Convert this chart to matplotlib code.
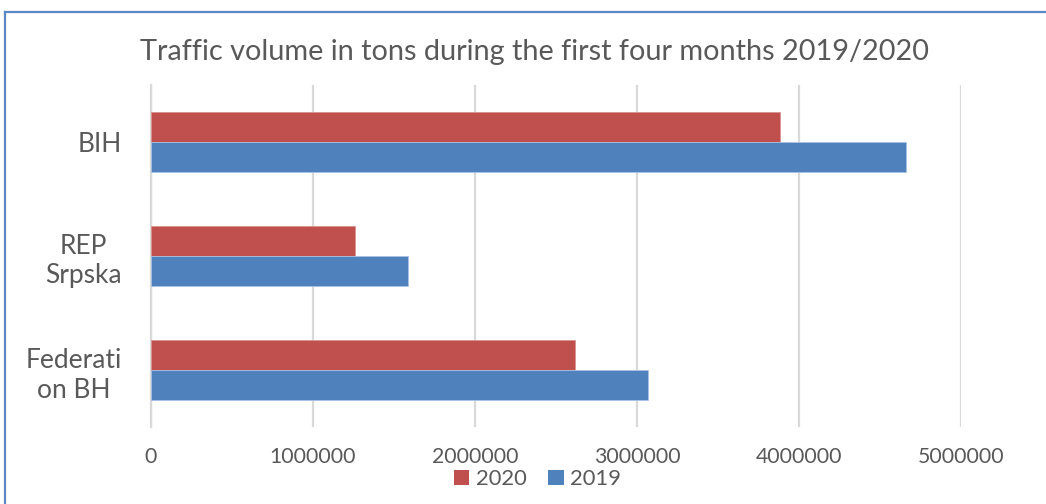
import matplotlib
matplotlib.use("Agg")
import matplotlib.pyplot as plt
from matplotlib.lines import Line2D
from matplotlib.patches import Patch
import numpy as np

# data, top to bottom
categories = ["BIH", "REP\nSrpska", "Federati\non BH"]
values_2020 = [3880000, 1260000, 2620000]
values_2019 = [4660000, 1585000, 3070000]
series_names = ["2020", "2019"]

TXT = "#595959"
GRID = "#D9D9D9"
RED = "#C0504D"
BLUE = "#4F81BD"
FRAME = "#5B87C5"

plt.rcParams["font.family"] = ["Lato", "DejaVu Sans"]

fig = plt.figure(figsize=(10.46, 5.04), dpi=100)
ax = fig.add_axes([151 / 1046, 1 - 427 / 504, 810 / 1046, 342 / 504])

y = np.arange(len(categories))
h = 0.263
ax.barh(y - h / 2, values_2020, height=h, color=RED, edgecolor="#D9928F", linewidth=0.6, zorder=3)
ax.barh(y + h / 2, values_2019, height=h, color=BLUE, edgecolor="#A9C2E3", linewidth=0.6, zorder=3)

ax.set_ylim(2.5, -0.5)
ax.set_xlim(0, 5000000)
ax.set_xticks(np.arange(0, 5000001, 1000000))
ax.set_xticklabels([str(v) for v in range(0, 5000001, 1000000)])
ax.set_yticks(y)
ax.set_yticklabels(categories, multialignment="center")
ax.grid(axis="x", color=GRID, linewidth=1.6, zorder=0)
ax.set_axisbelow(True)
for s in ["top", "right", "bottom"]:
    ax.spines[s].set_visible(False)
ax.spines["left"].set_color(GRID)
ax.spines["left"].set_linewidth(1.6)
ax.tick_params(axis="x", length=0, pad=14.5, labelsize=15.3, labelcolor=TXT)
ax.tick_params(axis="y", length=0, pad=21, labelsize=19, labelcolor=TXT)
for lab in ax.get_yticklabels():
    lab.set_linespacing(1.25)

fig.text(0.511, 1 - 52 / 504, "Traffic volume in tons during the first four months 2019/2020",
         ha="center", va="center", fontsize=20.8, color=TXT)

handles = [Patch(facecolor=RED), Patch(facecolor=BLUE)]
fig.legend(handles, series_names, loc="center", bbox_to_anchor=(0.514, 1 - 479 / 504),
           ncol=2, frameon=False, fontsize=15.8, labelcolor=TXT,
           handlelength=0.7, handleheight=0.7, handletextpad=0.3, columnspacing=1.0,
           borderpad=0)

# chart frame (only left and top edges visible in the crop)
fig.add_artist(Line2D([5 / 1046, 5 / 1046], [-0.1, 1 - 12 / 504], color=FRAME, lw=1.6))
fig.add_artist(Line2D([5 / 1046, 1.1], [1 - 12 / 504, 1 - 12 / 504], color=FRAME, lw=1.6))

fig.savefig("out.png", dpi=100, facecolor="white")
